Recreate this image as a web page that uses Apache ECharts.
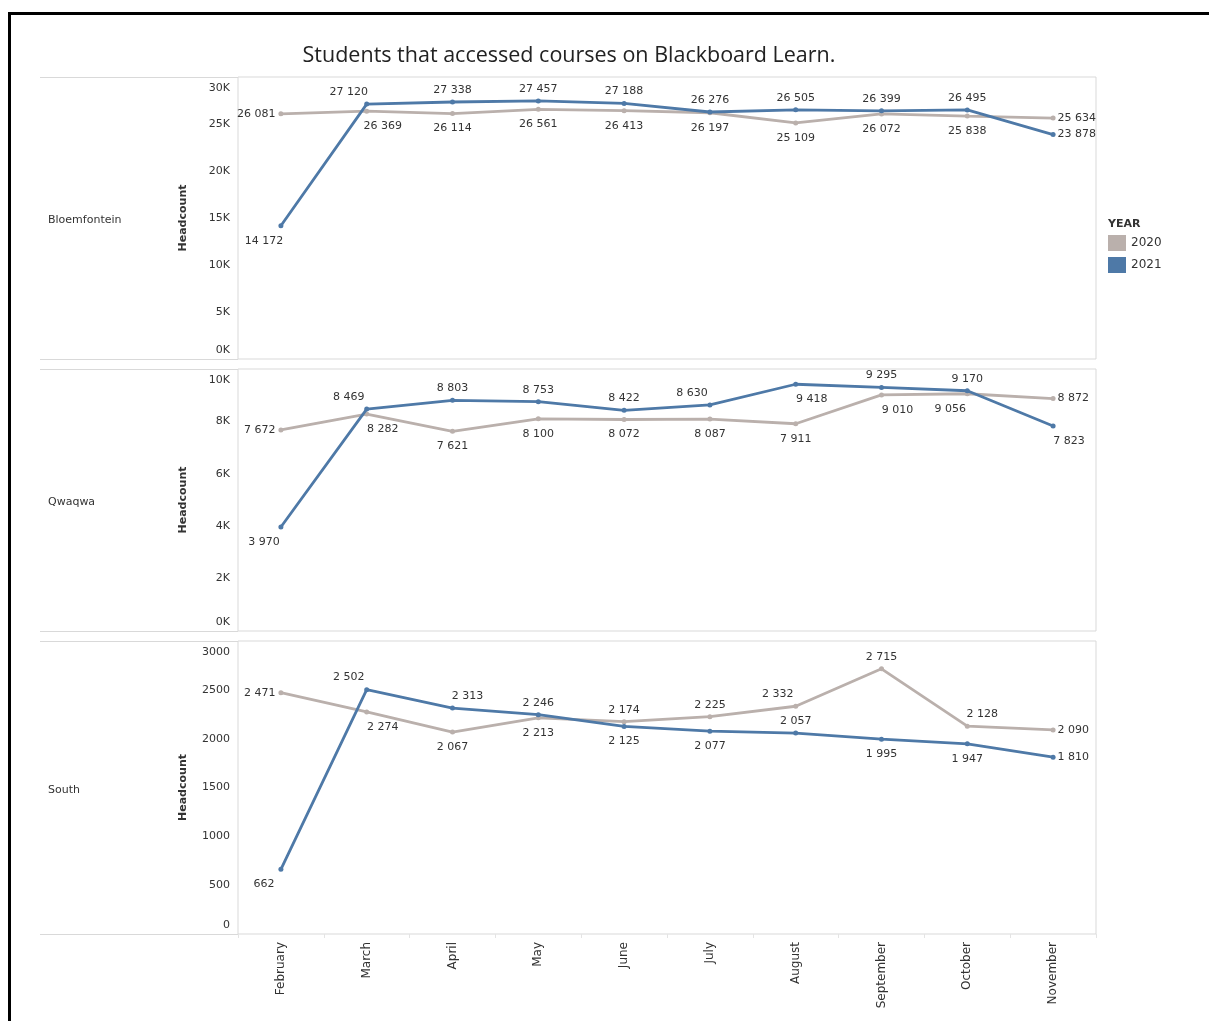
<!DOCTYPE html>
<html>
<head>
<meta charset="utf-8">
<title>Students that accessed courses on Blackboard Learn.</title>
<script src="https://cdn.jsdelivr.net/npm/echarts@6/dist/echarts.min.js"></script>
<style>
  html, body { margin: 0; padding: 0; background: #fff; }
  #chart { width: 1209px; height: 1021px; }
</style>
</head>
<body>
<div id="chart"></div>
<script>
// Months on the shared x axis
const months = ['February', 'March', 'April', 'May', 'June', 'July', 'August', 'September', 'October', 'November'];

// Campus rows
const campuses = ['Bloemfontein', 'Qwaqwa', 'South'];

// Headcount per month, by campus and year
const bloem2020 = [26081, 26369, 26114, 26561, 26413, 26197, 25109, 26072, 25838, 25634];
const bloem2021 = [14172, 27120, 27338, 27457, 27188, 26276, 26505, 26399, 26495, 23878];
const qwaqwa2020 = [7672, 8282, 7621, 8100, 8072, 8087, 7911, 9010, 9056, 8872];
const qwaqwa2021 = [3970, 8469, 8803, 8753, 8422, 8630, 9418, 9295, 9170, 7823];
const south2020 = [2471, 2274, 2067, 2213, 2174, 2225, 2332, 2715, 2128, 2090];
const south2021 = [662, 2502, 2313, 2246, 2125, 2077, 2057, 1995, 1947, 1810];

// Y axis tick values per row
const bloemTicks = [0, 5000, 10000, 15000, 20000, 25000, 30000];
const qwaqwaTicks = [0, 2000, 4000, 6000, 8000, 10000];
const southTicks = [0, 500, 1000, 1500, 2000, 2500, 3000];

// Where each value label sits relative to its point
const place = {
  bloem2020:  ['l', 'br', 'b', 'b', 'b', 'b', 'b', 'b', 'b', 'r'],
  bloem2021:  ['bl', 'tl', 't', 't', 't', 't', 't', 't', 't', 'r'],
  qwaqwa2020: ['l', 'br', 'b', 'b', 'b', 'b', 'b', 'br', 'bl', 'r'],
  qwaqwa2021: ['bl', 'tl', 't', 't', 't', 'tl', 'br', 't', 't', 'br'],
  south2020:  ['l', 'br', 'b', 'b', 't', 't', 'tl', 't', 'tr', 'r'],
  south2021:  ['bl', 'tl', 'tr', 't', 'b', 'b', 't', 'b', 'b', 'r']
};

const C2020 = '#bab0ac';
const C2021 = '#4e79a7';
const TEXT = '#333333';
const FONT = '"DejaVu Sans", Verdana, sans-serif';
const TITLE_FONT = '"Open Sans", "Noto Sans", sans-serif';

const grids = [
  { left: 238, top: 77, width: 858, height: 282 },
  { left: 238, top: 369, width: 858, height: 262 },
  { left: 238, top: 641, width: 858, height: 293 }
];

function fmtNum(v) {
  return String(v).replace(/\B(?=(\d{3})+(?!\d))/g, ' ');
}

function labelFor(code) {
  const base = { show: true, fontSize: 11, color: TEXT, fontFamily: FONT, formatter: p => fmtNum(p.value) };
  switch (code) {
    case 'l':  return Object.assign(base, { position: 'left', distance: 3 });
    case 'r':  return Object.assign(base, { position: 'right', distance: 2 });
    case 't':  return Object.assign(base, { position: 'top', distance: 4 });
    case 'b':  return Object.assign(base, { position: 'bottom', distance: 7 });
    case 'tl': return Object.assign(base, { position: 'top', distance: 4, offset: [-18, 0] });
    case 'tr': return Object.assign(base, { position: 'top', distance: 4, offset: [15, 0] });
    case 'bl': return Object.assign(base, { position: 'bottom', distance: 7, offset: [-17, 0] });
    case 'br': return Object.assign(base, { position: 'bottom', distance: 7, offset: [16, 0] });
  }
}

function lineSeries(name, values, codes, idx, color) {
  return {
    name: name,
    type: 'line',
    xAxisIndex: idx,
    yAxisIndex: idx,
    data: values.map((v, i) => ({ value: v, label: labelFor(codes[i]) })),
    symbol: 'circle',
    symbolSize: 5,
    lineStyle: { color: color, width: 2.8 },
    itemStyle: { color: color },
    emphasis: { disabled: true },
    z: name === '2021' ? 3 : 2
  };
}

// End labels are pulled inside the pane; the rest sit on their ticks
function yAxis(idx, max, ticks, fmt) {
  const tickText = { fontSize: 11, color: TEXT, fontFamily: FONT };
  return {
    type: 'value',
    gridIndex: idx,
    min: 0,
    max: max,
    name: 'Headcount',
    nameLocation: 'middle',
    nameGap: 49,
    nameTextStyle: { fontSize: 11, fontWeight: 'bold', color: TEXT, fontFamily: FONT },
    axisLine: { show: false },
    axisTick: { show: false },
    splitLine: { show: false },
    axisLabel: {
      customValues: ticks,
      formatter: v => {
        const s = fmt(v);
        if (v === max) return '{mx|' + s + '}';
        if (v === 0) return '{mn|' + s + '}';
        return s;
      },
      rich: {
        mx: Object.assign({ padding: [22, 0, 0, 0] }, tickText),
        mn: Object.assign({ padding: [0, 0, 18, 0] }, tickText)
      },
      fontSize: 11,
      color: TEXT,
      fontFamily: FONT,
      margin: 8
    }
  };
}

function xAxis(idx, showLabels) {
  return {
    type: 'category',
    gridIndex: idx,
    data: months,
    boundaryGap: true,
    axisLine: { show: false },
    axisTick: { show: showLabels, length: 4, lineStyle: { color: '#e4e4e4' } },
    splitLine: { show: false },
    axisLabel: {
      show: showLabels,
      rotate: 90,
      interval: 0,
      fontSize: 12,
      color: TEXT,
      fontFamily: FONT,
      margin: 8
    }
  };
}

const kFmt = v => (v / 1000) + 'K';
const plainFmt = v => String(v);

// Row headers and separators that run across the header column
const graphics = [];
grids.forEach((g, i) => {
  graphics.push({
    type: 'text', left: 48, top: g.top + g.height / 2 - 3,
    style: { text: campuses[i], fontSize: 11, fontFamily: FONT, fill: TEXT }
  });
  [g.top, g.top + g.height].forEach(y => {
    graphics.push({
      type: 'line', silent: true,
      shape: { x1: 40, y1: y + 0.5, x2: g.left, y2: y + 0.5 },
      style: { stroke: '#d9d9d9', lineWidth: 1 }
    });
  });
});
// Page frame
graphics.push({ type: 'line', silent: true, shape: { x1: 8, y1: 13.5, x2: 1209, y2: 13.5 }, style: { stroke: '#000', lineWidth: 3 } });
graphics.push({ type: 'line', silent: true, shape: { x1: 9.5, y1: 12, x2: 9.5, y2: 1021 }, style: { stroke: '#000', lineWidth: 3 } });

const chart = echarts.init(document.getElementById('chart'), null, { renderer: 'canvas' });
chart.setOption({
  backgroundColor: '#fff',
  animation: false,
  title: [
    {
      text: 'Students that accessed courses on Blackboard Learn.',
      left: 569, top: 45, textAlign: 'center', padding: 0,
      textStyle: { fontSize: 21.5, fontWeight: 'normal', color: '#222', fontFamily: TITLE_FONT }
    },
    {
      text: 'YEAR', left: 1108, top: 219, padding: 0,
      textStyle: { fontSize: 11, fontWeight: 'bold', color: TEXT, fontFamily: FONT }
    }
  ],
  legend: {
    data: ['2020', '2021'],
    orient: 'vertical',
    left: 1108, top: 235,
    padding: 0,
    icon: 'rect',
    itemWidth: 18, itemHeight: 16, itemGap: 6,
    selectedMode: false,
    textStyle: { fontSize: 12, color: TEXT, fontFamily: FONT }
  },
  grid: grids.map(g => Object.assign({ show: true, borderColor: '#d9d9d9', borderWidth: 1, backgroundColor: 'transparent' }, g)),
  xAxis: [xAxis(0, false), xAxis(1, false), xAxis(2, true)],
  yAxis: [
    yAxis(0, 30000, bloemTicks, kFmt),
    yAxis(1, 10000, qwaqwaTicks, kFmt),
    yAxis(2, 3000, southTicks, plainFmt)
  ],
  series: [
    lineSeries('2020', bloem2020, place.bloem2020, 0, C2020),
    lineSeries('2021', bloem2021, place.bloem2021, 0, C2021),
    lineSeries('2020', qwaqwa2020, place.qwaqwa2020, 1, C2020),
    lineSeries('2021', qwaqwa2021, place.qwaqwa2021, 1, C2021),
    lineSeries('2020', south2020, place.south2020, 2, C2020),
    lineSeries('2021', south2021, place.south2021, 2, C2021)
  ],
  graphic: graphics
});
</script>
</body>
</html>
